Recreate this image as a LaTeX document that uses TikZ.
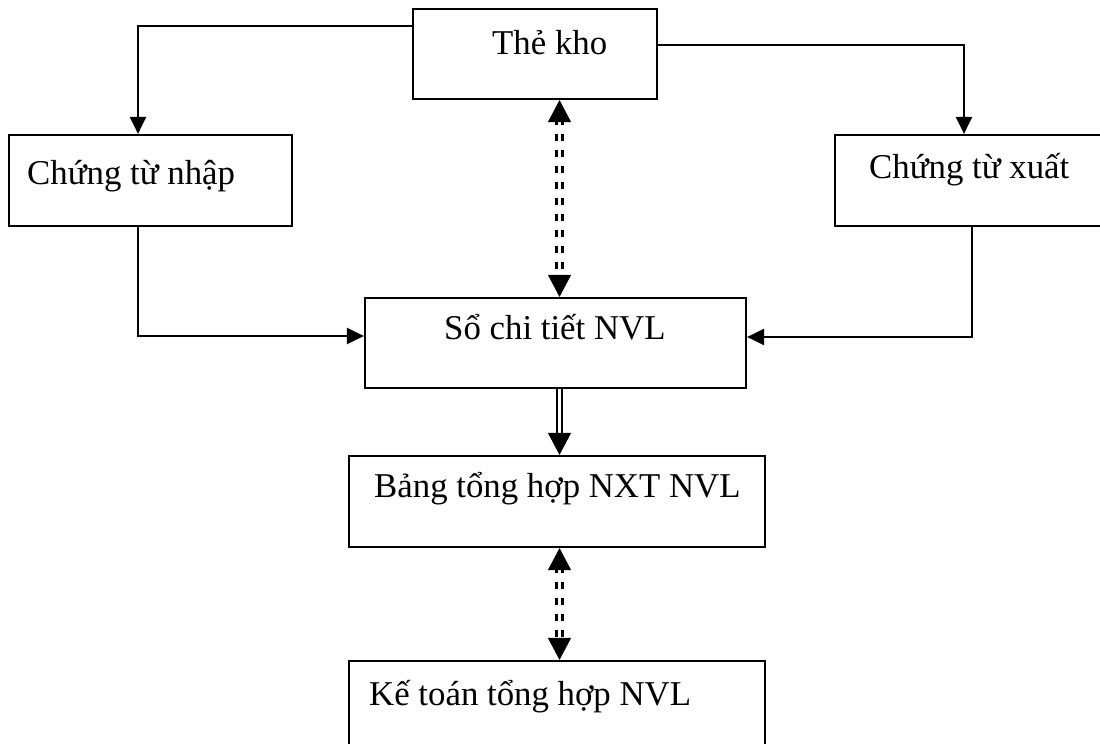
\documentclass[tikz,border=0pt]{standalone}
\usepackage{fontspec}
\setmainfont{Liberation Serif}
\usetikzlibrary{arrows.meta}
\begin{document}
\begin{tikzpicture}[x=1pt,y=-1pt,
  box/.style={draw, line width=2.2pt, inner sep=0pt, rectangle},
  lbl/.style={anchor=base west, inner sep=0pt, font=\fontsize{34.8}{40}\selectfont},
  flow/.style={line width=2.3pt, -{Triangle[length=17pt,width=16pt]}},
  dbl/.style={line width=2.5pt, double, double distance=2.5pt},
  dbldash/.style={line width=2.5pt, double, double distance=3.5pt, dash pattern=on 7pt off 9pt,
    shorten <=18pt, shorten >=18pt},
  bigtip/.style={line width=1pt, -{Triangle[length=22pt,width=23pt]}}
]
\useasboundingbox (0,0) rectangle (1100,744);
\clip (0,0) rectangle (1100,744);
\fill[white] (0,0) rectangle (1100,744);

% boxes
\node[box, minimum width=244pt, minimum height=90pt] (the) at (535,54) {};
\node[box, minimum width=283pt, minimum height=91pt] (nhap) at (150.5,180.5) {};
\node[box, minimum width=275pt, minimum height=91pt] (xuat) at (972.5,180.5) {};
\node[box, minimum width=381pt, minimum height=90pt] (so) at (555.5,343) {};
\node[box, minimum width=416pt, minimum height=91pt] (bang) at (557,501.5) {};
\node[box, minimum width=416pt, minimum height=88pt] (kt) at (557,705) {};

% box texts
\node[lbl] (theT) at (492,54) {Thẻ kho};
\node[lbl] (nhapT) at (27,184) {Chứng từ nhập};
\node[lbl] (xuatT) at (869,178) {Chứng từ xuất};
\node[lbl] (soT) at (444,339) {Sổ chi tiết NVL};
\node[lbl] (bangT) at (374,497) {Bảng tổng hợp NXT NVL};
\node[lbl] (ktT) at (369,705) {Kế toán tổng hợp NVL};

% bends
\coordinate (b1) at (138,26);
\coordinate (b2) at (964,45);
\coordinate (b3) at (138,336);
\coordinate (b4) at (972,337);
\coordinate (col) at (559.5,0);

% solid connectors
\draw[flow] (the.west |- b1) -- (b1) -- (b1 |- nhap.north);
\draw[flow] (the.east |- b2) -- (b2) -- (b2 |- xuat.north);
\draw[flow] (b3 |- nhap.south) -- (b3) -- (so.west |- b3);
\draw[flow] (b4 |- xuat.south) -- (b4) -- (so.east |- b4);

% double dashed two-way links
\draw[dbldash] (col |- the.south) -- (col |- so.north);
\draw[bigtip] ([yshift=1pt]col |- so.north) -- (col |- so.north);
\draw[bigtip] ([yshift=-1pt]col |- the.south) -- (col |- the.south);

\draw[dbldash] (col |- bang.south) -- (col |- kt.north);
\draw[bigtip] ([yshift=1pt]col |- kt.north) -- (col |- kt.north);
\draw[bigtip] ([yshift=-1pt]col |- bang.south) -- (col |- bang.south);

% double solid link
\draw[dbl] (col |- so.south) -- ([yshift=10pt]col |- bang.north);
\draw[bigtip] ([yshift=1pt]col |- bang.north) -- (col |- bang.north);
\end{tikzpicture}
\end{document}
